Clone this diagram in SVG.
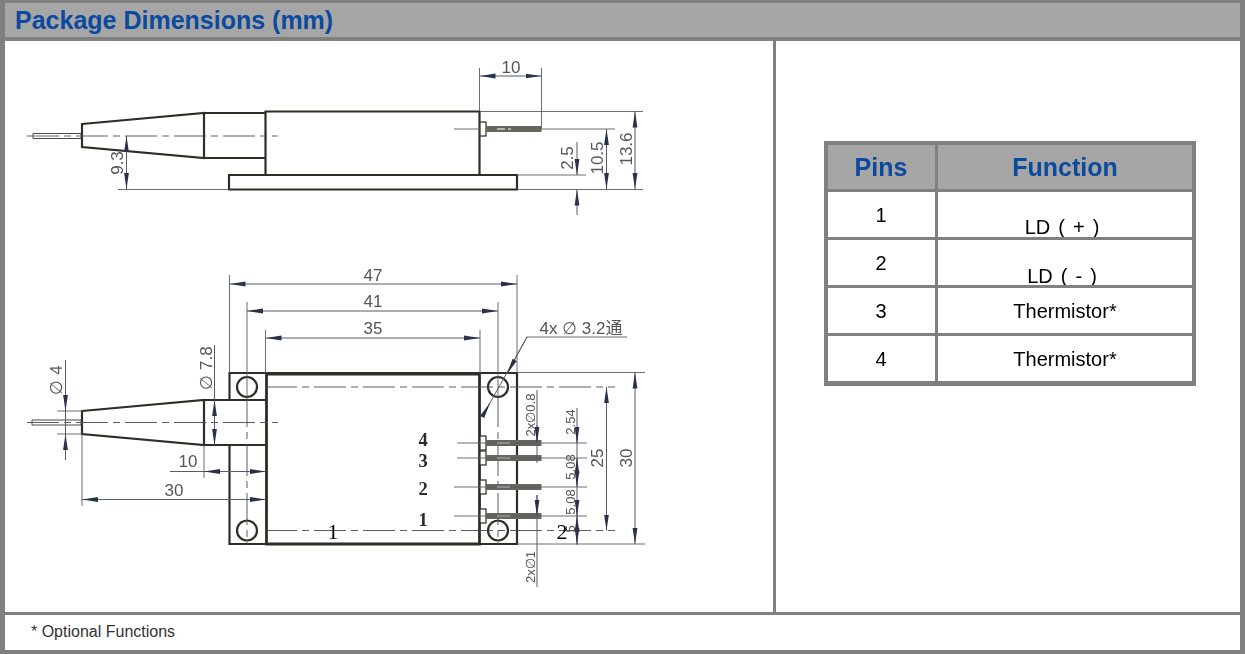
<svg xmlns="http://www.w3.org/2000/svg" width="1245" height="654" viewBox="0 0 1245 654">
<style>
.thick{stroke:#2e2e26;stroke-width:2.2;fill:none}
.thin{stroke:#5c5c68;stroke-width:.9;fill:none}
.dim{stroke:#555b70;stroke-width:1;fill:none}
.cl{stroke:#4a4a55;stroke-width:.9;fill:none;stroke-dasharray:32 5 7 5}
.d{font-family:"Liberation Sans",Arial,sans-serif;fill:#55555a;font-size:17px;text-anchor:middle}
.s{font-size:13px}
.n{font-family:"Liberation Serif","Times New Roman",serif;font-weight:bold;font-size:18.500px;fill:#2a2a2a;text-anchor:middle}
.m{font-family:"Liberation Serif","Times New Roman",serif;font-size:22px;fill:#000;text-anchor:middle}
.h{font-family:"Liberation Sans",Arial,sans-serif;font-weight:bold;font-size:25px;fill:#0b4a9e;text-anchor:middle}
.t{font-family:"Liberation Sans",Arial,sans-serif;font-size:20px;fill:#000;text-anchor:middle}
.grid{fill:#808080}
</style>
<defs>
<marker id="a" viewBox="0 0 16 6" refX="16" refY="3" markerWidth="16" markerHeight="6" markerUnits="userSpaceOnUse" orient="auto-start-reverse"><path d="M0 .6L16 3L0 5.400z" fill="#2c3048"/></marker>
<filter id="b" x="0" y="0" width="100%" height="100%"><feGaussianBlur stdDeviation=".4"/></filter>
</defs>
<rect width="1245" height="654" fill="#fff"/>
<g id="frame">
<path class="grid" d="M0 0H1245V654H0ZM5 41V650H1240V41Z" fill-rule="evenodd"/>
<rect class="grid" x="0" y="37" width="1245" height="4"/>
<rect class="grid" x="773" y="40" width="3" height="574"/>
<rect class="grid" x="0" y="612" width="1245" height="3"/>
<rect x="5" y="3" width="1235" height="34" fill="#a6a6a6"/>
<text x="15" y="29" font-family="'Liberation Sans',Arial,sans-serif" font-weight="bold" font-size="25" fill="#0b4a9e">Package Dimensions (mm)</text>
<text x="31" y="637" font-family="'Liberation Sans',Arial,sans-serif" font-size="16" fill="#333">* Optional Functions</text>
</g>
<g id="drawing" filter="url(#b)">
<g id="side-view">
<path class="thick" d="M82 124L204 113V158L82 147ZM204 113H265M204 158H265M265.500 175V111.500H479.500V175M229 175H517V189.500H229Z"/>
<path d="M33 133.500H81V138.500H33Z" fill="#fff" stroke="#4a4a55"/>
<path class="cl" d="M27 136H278"/>
<rect x="480" y="122" width="6" height="14" fill="#fff" stroke="#3a3a2e" stroke-width="1.300"/>
<rect x="486" y="126" width="55.500" height="6" fill="#66665c"/>
<path d="M497 129H505M508 129H511" stroke="#fff" stroke-width="1"/>
<path class="thin" d="M454 129H480M541 129H615M479.500 68V111M541.500 68V129M480 111.500H643M517 175H586M118 189.500H229M517 189.500H643"/>
<path class="dim" marker-start="url(#a)" marker-end="url(#a)" d="M479.500 76H541.500"/>
<path class="dim" marker-start="url(#a)" marker-end="url(#a)" d="M126.500 136V189"/>
<path class="dim" marker-start="url(#a)" marker-end="url(#a)" d="M606.500 129V189"/>
<path class="dim" marker-start="url(#a)" marker-end="url(#a)" d="M635 111.500V189"/>
<path class="dim" marker-end="url(#a)" d="M577 142V175"/>
<path class="dim" marker-end="url(#a)" d="M577 215V189.500"/>
<text class="d" x="511" y="73">10</text>
<text class="d" transform="translate(123 163) rotate(-90)">9.3</text>
<text class="d" transform="translate(573 158) rotate(-90)">2.5</text>
<text class="d" transform="translate(603 158) rotate(-90)">10.5</text>
<text class="d" transform="translate(632 149) rotate(-90)">13.6</text>
</g>
<g id="top-view">
<path class="thick" d="M82 411L204 400V445L82 434ZM204 400H266M204 445H266M229.500 400V373H517V544H229.500V445"/>
<path class="thick" style="stroke-width:2.800" d="M266.500 374H479.500V544H266.500Z"/>
<circle class="thick" cx="247" cy="387" r="10"/>
<circle class="thick" cx="247" cy="530.500" r="10"/>
<circle class="thick" cx="498" cy="387" r="10"/>
<circle class="thick" cx="498" cy="530.500" r="10"/>
<path d="M32 420H81V425H32Z" fill="#fff" stroke="#4a4a55"/>
<path class="cl" d="M27 422.500H278"/>
<path class="cl" d="M265 387H615M265 530.500H615"/>
<path class="cl" d="M247 395V545M498 395V545"/>
<path class="thin" d="M247 302V395M498 302V395"/>
<g fill="#fff" stroke="#3a3a2e" stroke-width="1.300">
<rect x="480" y="436" width="6" height="14"/><rect x="480" y="451" width="6" height="14"/><rect x="480" y="480" width="6" height="14"/><rect x="480" y="509" width="6" height="14"/>
</g>
<g fill="#66665c">
<rect x="486" y="440" width="55.500" height="6"/><rect x="486" y="455" width="55.500" height="6"/><rect x="486" y="484" width="55.500" height="6"/><rect x="486" y="513" width="55.500" height="6"/>
</g>
<path d="M497 443H510M497 458H510M497 487H510M497 516H510" stroke="#fff" stroke-width="1"/>
<path class="thin" d="M457 443H587M457 458H587M454 487H587M454 516H587M229.500 275V373M517 275V373M265.500 330V373M480 330V373M517 372.500H645M517 544H645M57 411H82M57 434H82M204 445V478M82 434V506M526.500 337H627"/>
<path class="dim" d="M527 337L482 417"/>
<path class="dim" marker-end="url(#a)" d="M527 337L507 374"/>
<path class="dim" marker-end="url(#a)" d="M482 417L490 403"/>
<path class="dim" marker-start="url(#a)" marker-end="url(#a)" d="M229.500 284H517"/>
<path class="dim" marker-start="url(#a)" marker-end="url(#a)" d="M247 311H498"/>
<path class="dim" marker-start="url(#a)" marker-end="url(#a)" d="M265.500 338H480"/>
<path class="dim" marker-start="url(#a)" marker-end="url(#a)" d="M606.500 387V530.500"/>
<path class="dim" marker-start="url(#a)" marker-end="url(#a)" d="M635 372.500V544"/>
<path class="dim" marker-end="url(#a)" d="M65.500 360V411"/>
<path class="dim" marker-end="url(#a)" d="M65.500 460V434"/>
<path class="dim" d="M65.500 411V434"/>
<path class="dim" d="M214.500 345V400"/>
<path class="dim" marker-start="url(#a)" marker-end="url(#a)" d="M214.500 400V445"/>
<path class="dim" d="M170 471.500H266"/>
<path class="dim" marker-start="url(#a)" marker-end="url(#a)" d="M204 471.500H266"/>
<path class="dim" marker-start="url(#a)" marker-end="url(#a)" d="M82 499.500H266"/>
<path class="dim" d="M537 390V463"/>
<path class="dim" marker-end="url(#a)" d="M537 425V443"/>
<path class="dim" d="M537 495V587"/>
<path class="dim" marker-end="url(#a)" d="M537 495V516"/>
<path class="dim" d="M577 408V545"/>
<path class="dim" marker-end="url(#a)" d="M577 428V443"/>
<path class="dim" marker-end="url(#a)" d="M577 472V458"/>
<path class="dim" marker-end="url(#a)" d="M577 472V487"/>
<path class="dim" marker-end="url(#a)" d="M577 502V516"/>
<path class="dim" marker-end="url(#a)" d="M577 530V516"/>
<path class="dim" marker-end="url(#a)" d="M577 530V544"/>
<text class="d" x="373" y="281">47</text>
<text class="d" x="373" y="307">41</text>
<text class="d" x="373" y="334">35</text>
<text class="d" x="188" y="467">10</text>
<text class="d" x="174" y="496">30</text>
<text class="d" x="581" y="334" style="font-family:'Liberation Sans','DejaVu Sans','Noto Sans CJK SC',sans-serif">4x ∅ 3.2通</text>
<text class="d" transform="translate(62 380) rotate(-90)">∅ 4</text>
<text class="d" transform="translate(212 368) rotate(-90)">∅ 7.8</text>
<text class="d" transform="translate(603 458) rotate(-90)">25</text>
<text class="d" transform="translate(632 458) rotate(-90)">30</text>
<text class="d s" transform="translate(535 415) rotate(-90)">2x∅0.8</text>
<text class="d s" transform="translate(535 567) rotate(-90)">2x∅1</text>
<text class="d s" transform="translate(575 422) rotate(-90)">2.54</text>
<text class="d s" transform="translate(575 467) rotate(-90)">5.08</text>
<text class="d s" transform="translate(575 502) rotate(-90)">5.08</text>
<text class="d s" transform="translate(575 529) rotate(-90)">5</text>
<text class="n" x="423" y="446">4</text>
<text class="n" x="423" y="467">3</text>
<text class="n" x="423" y="495">2</text>
<text class="n" x="423" y="526">1</text>
</g>
</g>
<g id="labels-ld">
<text class="m" x="333" y="539">1</text>
<text class="m" x="562" y="539">2</text>
</g>
<g id="pin-table">
<rect x="824" y="141" width="372" height="245" fill="#808080"/>
<rect x="828" y="145" width="107" height="44" fill="#a6a6a6"/>
<rect x="938" y="145" width="254" height="44" fill="#a6a6a6"/>
<g fill="#fff">
<rect x="828" y="192" width="107" height="45"/><rect x="938" y="192" width="254" height="45"/>
<rect x="828" y="240" width="107" height="45"/><rect x="938" y="240" width="254" height="45"/>
<rect x="828" y="288" width="107" height="45"/><rect x="938" y="288" width="254" height="45"/>
<rect x="828" y="336" width="107" height="45"/><rect x="938" y="336" width="254" height="45"/>
</g>
<text class="h" x="881" y="176">Pins</text>
<text class="h" x="1065" y="176">Function</text>
<text class="t" x="881" y="222">1</text>
<text class="t" x="881" y="270">2</text>
<text class="t" x="881" y="318">3</text>
<text class="t" x="881" y="366">4</text>
<svg x="938" y="192" width="254" height="45" viewBox="938 192 254 45"><text class="t" x="1062" y="234" word-spacing="2.500">LD ( + )</text></svg>
<svg x="938" y="240" width="254" height="45" viewBox="938 240 254 45"><text class="t" x="1062" y="283" word-spacing="2.500">LD ( - )</text></svg>
<text class="t" x="1065" y="318">Thermistor*</text>
<text class="t" x="1065" y="366">Thermistor*</text>
</g>
</svg>
